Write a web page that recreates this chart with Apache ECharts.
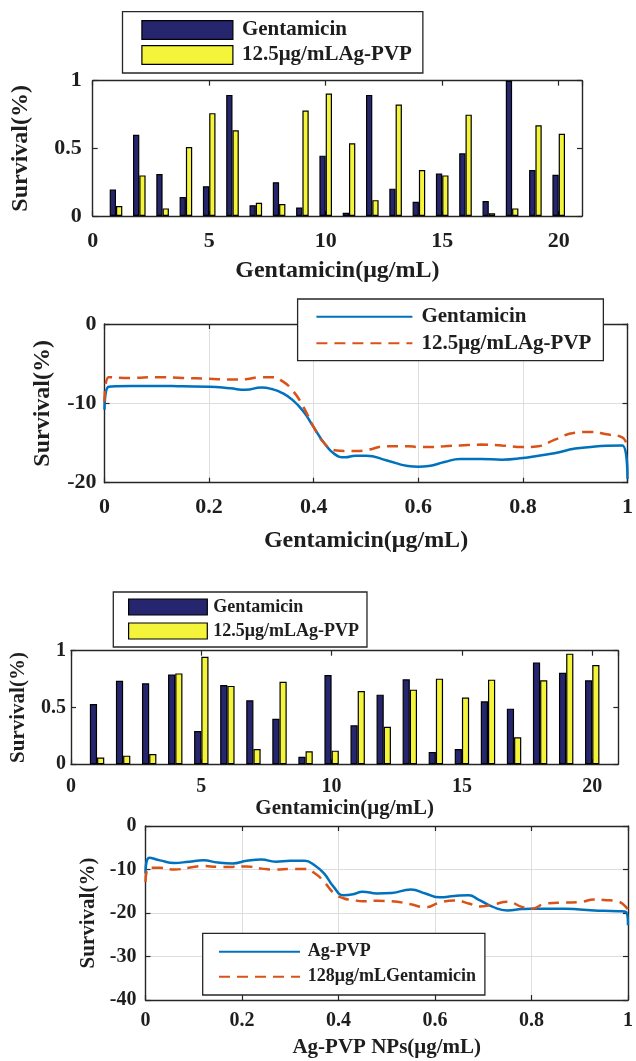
<!DOCTYPE html>
<html>
<head>
<meta charset="utf-8">
<script src="https://cdn.jsdelivr.net/npm/echarts@6/dist/echarts.min.js"></script>
<style>
  html, body { margin: 0; padding: 0; background: #fff; }
  #main { width: 636px; height: 1061px; }
</style>
</head>
<body>
<div id="main"></div>
<script>
// ---- data ----
var barX = [1, 2, 3, 4, 5, 6, 7, 8, 9, 10, 11, 12, 13, 14, 15, 16, 17, 18, 19, 20];
// panel 1 (top bar chart)
var p1Gent = [0.195, 0.60, 0.31, 0.14, 0.22, 0.895, 0.08, 0.25, 0.063, 0.446, 0.024, 0.895, 0.202, 0.105, 0.315, 0.463, 0.11, 1.0, 0.34, 0.305];
var p1Ag   = [0.073, 0.30, 0.056, 0.51, 0.76, 0.634, 0.098, 0.088, 0.78, 0.905, 0.537, 0.117, 0.824, 0.34, 0.30, 0.749, 0.02, 0.056, 0.67, 0.607];
// panel 3 (lower bar chart)
var p3Gent = [0.53, 0.736, 0.713, 0.79, 0.293, 0.698, 0.563, 0.40, 0.067, 0.786, 0.343, 0.613, 0.748, 0.108, 0.135, 0.554, 0.49, 0.897, 0.806, 0.739];
var p3Ag   = [0.06, 0.076, 0.09, 0.80, 0.947, 0.69, 0.135, 0.727, 0.114, 0.12, 0.645, 0.33, 0.657, 0.754, 0.587, 0.745, 0.238, 0.739, 0.974, 0.874];

// panel 2 (upper line chart)
var p2X    = [0, 0.008, 0.05, 0.1, 0.15, 0.2, 0.24, 0.27, 0.3, 0.32, 0.34, 0.36, 0.38, 0.40, 0.42, 0.44, 0.46, 0.48, 0.5, 0.54, 0.58, 0.6, 0.62, 0.65, 0.68, 0.72, 0.76, 0.8, 0.83, 0.86, 0.9, 0.93, 0.96, 0.99, 1.0];
var p2Gent = [-10.8, -7.9, -7.8, -7.8, -7.85, -7.9, -8.1, -8.3, -8.0, -8.2, -8.7, -9.6, -11.0, -13.0, -15.0, -16.4, -16.8, -16.6, -16.6, -17.2, -17.9, -18.0, -17.9, -17.4, -17.0, -17.0, -17.1, -16.9, -16.6, -16.3, -15.7, -15.5, -15.35, -15.3, -19.5];
var p2Ag   = [-9.8, -6.7, -6.8, -6.7, -6.8, -6.9, -7.0, -6.95, -6.7, -6.7, -7.2, -8.4, -10.4, -13.0, -15.0, -15.9, -16.0, -16.0, -15.9, -15.4, -15.4, -15.5, -15.5, -15.4, -15.3, -15.2, -15.3, -15.5, -15.4, -14.6, -13.7, -13.6, -13.9, -14.3, -15.6];

// panel 4 (lower line chart)
var p4X    = [0, 0.008, 0.03, 0.06, 0.09, 0.12, 0.15, 0.18, 0.21, 0.24, 0.27, 0.3, 0.33, 0.35, 0.37, 0.39, 0.41, 0.43, 0.45, 0.48, 0.51, 0.55, 0.58, 0.61, 0.64, 0.67, 0.69, 0.72, 0.75, 0.78, 0.8, 0.83, 0.87, 0.9, 0.93, 0.95, 0.98, 0.995, 1.0];
var p4AgPvp = [-10.9, -7.3, -7.9, -8.5, -8.2, -7.9, -8.4, -8.6, -8.0, -7.7, -8.2, -8.0, -8.0, -9.0, -10.9, -14.0, -15.9, -15.7, -15.1, -15.5, -15.4, -14.6, -15.5, -16.4, -16.1, -15.9, -16.9, -18.6, -19.4, -19.1, -19.0, -19.0, -19.0, -19.2, -19.4, -19.5, -19.6, -19.7, -22.8];
var p4Gent128 = [-12.9, -9.6, -9.6, -10.0, -9.6, -9.2, -9.4, -9.4, -9.3, -9.8, -10.0, -9.9, -9.9, -10.8, -12.8, -15.4, -16.6, -17.0, -17.3, -17.2, -17.3, -18.0, -18.7, -17.6, -17.1, -17.8, -18.5, -18.1, -17.4, -18.6, -19.0, -17.8, -17.6, -17.5, -16.9, -17.0, -17.4, -18.5, -19.4];

var legendText = {
    p1g: 'Gentamicin', p1a: '12.5μg/mLAg-PVP',
    p2g: 'Gentamicin', p2a: '12.5μg/mLAg-PVP',
    p3g: 'Gentamicin', p3a: '12.5μg/mLAg-PVP',
    p4a: 'Ag-PVP', p4g: '128μg/mLGentamicin'
};

var FONT = 'Liberation Serif';
var INK = '#1e1e1e';
var NAVY = '#26266e';
var YELLOW = '#f4f43a';
var BLUE = '#0072BD';
var ORANGE = '#D95319';

function pairs(xs, ys) {
    return xs.map(function (x, i) { return [x, ys[i]]; });
}
function fmt(v) {
    return String(Math.round(v * 10) / 10);
}

// bottom/left axis with labels, top/right mirror axis with ticks only
function mainX(grid, min, max, interval, name, fs, nfs, nameGap, margin, split) {
    return {
        type: 'value', gridIndex: grid, min: min, max: max, interval: interval, position: 'bottom',
        name: name, nameLocation: 'middle', nameGap: nameGap,
        nameTextStyle: { fontFamily: FONT, fontWeight: 'bold', fontSize: nfs, color: INK },
        axisLine: { show: true, onZero: false, lineStyle: { color: '#262626', width: 1.4 } },
        axisTick: { show: true, inside: true, length: 5, lineStyle: { color: '#262626', width: 1.2 } },
        axisLabel: { margin: margin, fontFamily: FONT, fontWeight: 'bold', fontSize: fs, color: INK, formatter: fmt, showMaxLabel: max === 1 },
        splitLine: { show: split, lineStyle: { color: '#dedede', width: 1 } }
    };
}
function mirrorX(grid, min, max, interval) {
    return {
        type: 'value', gridIndex: grid, min: min, max: max, interval: interval, position: 'top',
        axisLine: { show: true, onZero: false, lineStyle: { color: '#262626', width: 1.4 } },
        axisTick: { show: true, inside: true, length: 5, lineStyle: { color: '#262626', width: 1.2 } },
        axisLabel: { show: false }, splitLine: { show: false }
    };
}
function mainY(grid, min, max, interval, name, fs, nfs, nameGap, margin, split) {
    return {
        type: 'value', gridIndex: grid, min: min, max: max, interval: interval, position: 'left',
        name: name, nameLocation: 'middle', nameGap: nameGap,
        nameTextStyle: { fontFamily: FONT, fontWeight: 'bold', fontSize: nfs, color: INK },
        axisLine: { show: true, onZero: false, lineStyle: { color: '#262626', width: 1.4 } },
        axisTick: { show: true, inside: true, length: 5, lineStyle: { color: '#262626', width: 1.2 } },
        axisLabel: { margin: margin, fontFamily: FONT, fontWeight: 'bold', fontSize: fs, color: INK, formatter: fmt },
        splitLine: { show: split, lineStyle: { color: '#dedede', width: 1 } }
    };
}
function mirrorY(grid, min, max, interval) {
    return {
        type: 'value', gridIndex: grid, min: min, max: max, interval: interval, position: 'right',
        axisLine: { show: true, onZero: false, lineStyle: { color: '#262626', width: 1.4 } },
        axisTick: { show: true, inside: true, length: 5, lineStyle: { color: '#262626', width: 1.2 } },
        axisLabel: { show: false }, splitLine: { show: false }
    };
}
function legendBox(names, left, top, pad, iw, ih, gap, fs, textPad, isBar) {
    var l = {
        data: names, orient: 'vertical', left: left, top: top, padding: pad,
        itemWidth: iw, itemHeight: ih, itemGap: gap, selectedMode: false,
        backgroundColor: '#fff', borderColor: '#262626', borderWidth: 1.3,
        formatter: function (n) { return legendText[n]; },
        textStyle: { fontFamily: FONT, fontWeight: 'bold', fontSize: fs, color: INK, padding: [0, 0, 0, textPad] }
    };
    if (isBar) {
        l.icon = 'rect';
        l.itemStyle = { borderColor: '#000', borderWidth: 1.2 };
    } else {
        // line only, no marker in the key
        l.itemStyle = { opacity: 0 };
    }
    return l;
}
function bars(name, grid, data, color, w) {
    return {
        name: name, type: 'bar', xAxisIndex: grid * 2, yAxisIndex: grid * 2,
        data: pairs(barX, data), barWidth: w, barGap: '0%',
        itemStyle: { color: color, borderColor: '#000', borderWidth: 1.2 }
    };
}
function line(name, grid, xs, ys, color, dashed) {
    return {
        name: name, type: 'line', xAxisIndex: grid * 2, yAxisIndex: grid * 2,
        data: pairs(xs, ys), symbol: 'none', smooth: 0.5,
        lineStyle: { color: color, width: 2.5, type: dashed ? [11, 7] : 'solid' },
        itemStyle: { color: color }
    };
}

var chart = echarts.init(document.getElementById('main'));
chart.setOption({
    backgroundColor: '#fff',
    animation: false,
    grid: [
        { left: 92.7, top: 80.7, width: 489.3, height: 135.3 },
        { left: 104.5, top: 324, width: 531.5, height: 158.7 },
        { left: 70, top: 650.7, width: 548.3, height: 113.6 },
        { left: 145.5, top: 826, width: 487, height: 174 }
    ],
    xAxis: [
        mainX(0, 0, 21, 5, 'Gentamicin(μg/mL)', 22, 24, 43, 14, false), mirrorX(0, 0, 21, 5),
        mainX(1, 0, 1, 0.2, 'Gentamicin(μg/mL)', 22, 24, 46, 14, true), mirrorX(1, 0, 1, 0.2),
        mainX(2, 0, 21, 5, 'Gentamicin(μg/mL)', 20, 21, 27, 13, false), mirrorX(2, 0, 21, 5),
        mainX(3, 0, 1, 0.2, 'Ag-PVP NPs(μg/mL)', 20, 21, 37, 11, true), mirrorX(3, 0, 1, 0.2)
    ],
    yAxis: [
        mainY(0, 0, 1, 0.5, 'Survival(%)', 22, 24, 60, 11, false), mirrorY(0, 0, 1, 0.5),
        mainY(1, -20, 0, 10, 'Survival(%)', 22, 24, 50, 8, true), mirrorY(1, -20, 0, 10),
        mainY(2, 0, 1, 0.5, 'Survival(%)', 20, 21, 42, 5, false), mirrorY(2, 0, 1, 0.5),
        mainY(3, -40, 0, 10, 'Survival(%)', 20, 21, 46, 9, true), mirrorY(3, -40, 0, 10)
    ],
    legend: [
        legendBox(['p1g', 'p1a'], 122.5, 11.7, [7.8, 11, 7.5, 18.8], 91, 18.6, 4, 21, 4, true),
        legendBox(['p2g', 'p2a'], 297.6, 299, [7.2, 12, 6.9, 17.8], 96, 19, 5.6, 21, 4, false),
        legendBox(['p3g', 'p3a'], 113.3, 592, [6, 8, 7, 14.7], 78.7, 16, 6, 18, 1, true),
        legendBox(['p4a', 'p4g'], 202.7, 933.3, [9.4, 9, 9.3, 15.3], 81, 17, 7, 18, 2.7, false)
    ],
    series: [
        bars('p1g', 0, p1Gent, NAVY, 6.3),
        bars('p1a', 0, p1Ag, YELLOW, 6.3),
        line('p2g', 1, p2X, p2Gent, BLUE, false),
        line('p2a', 1, p2X, p2Ag, ORANGE, true),
        bars('p3g', 2, p3Gent, NAVY, 7.2),
        bars('p3a', 2, p3Ag, YELLOW, 7.2),
        line('p4a', 3, p4X, p4AgPvp, BLUE, false),
        line('p4g', 3, p4X, p4Gent128, ORANGE, true)
    ]
});
window.addEventListener('resize', function () { chart.resize(); });
</script>
</body>
</html>
